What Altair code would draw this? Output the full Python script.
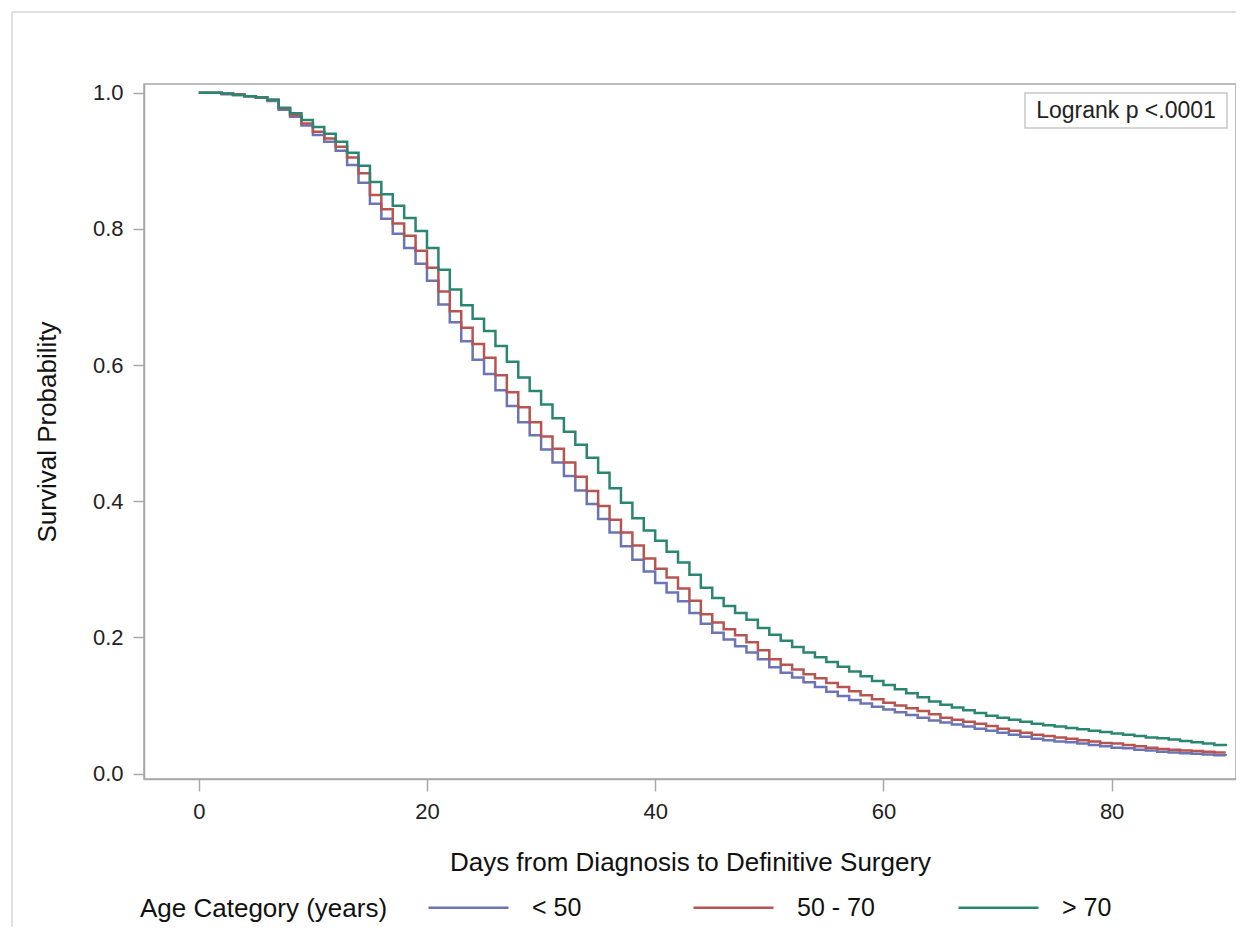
import altair as alt
import pandas as pd

days = list(range(0, 91))

under50 = [1.000, 1.000, 0.998, 0.997, 0.995, 0.993, 0.988, 0.975, 0.965, 0.952,
           0.938, 0.928, 0.915, 0.894, 0.868, 0.837, 0.815, 0.793, 0.772, 0.749,
           0.724, 0.689, 0.663, 0.635, 0.608, 0.587, 0.563, 0.540, 0.516, 0.497,
           0.476, 0.457, 0.437, 0.416, 0.396, 0.374, 0.354, 0.334, 0.314, 0.297,
           0.280, 0.266, 0.253, 0.236, 0.220, 0.207, 0.197, 0.187, 0.178, 0.168,
           0.156, 0.148, 0.141, 0.134, 0.127, 0.120, 0.114, 0.108, 0.103, 0.098,
           0.094, 0.090, 0.086, 0.082, 0.078, 0.075, 0.072, 0.069, 0.066, 0.063,
           0.060, 0.057, 0.054, 0.051, 0.049, 0.047, 0.046, 0.044, 0.042, 0.040,
           0.038, 0.037, 0.035, 0.034, 0.032, 0.031, 0.030, 0.029, 0.028, 0.027,
           0.026]

age50_70 = [1.000, 1.000, 0.999, 0.998, 0.995, 0.993, 0.990, 0.977, 0.967, 0.955,
            0.943, 0.933, 0.921, 0.905, 0.882, 0.850, 0.829, 0.808, 0.790, 0.768,
            0.743, 0.708, 0.679, 0.655, 0.631, 0.611, 0.585, 0.560, 0.538, 0.516,
            0.495, 0.477, 0.457, 0.436, 0.415, 0.393, 0.373, 0.354, 0.335, 0.316,
            0.301, 0.288, 0.272, 0.254, 0.234, 0.222, 0.212, 0.203, 0.193, 0.181,
            0.168, 0.160, 0.153, 0.146, 0.140, 0.133, 0.127, 0.121, 0.115, 0.109,
            0.104, 0.100, 0.096, 0.092, 0.087, 0.082, 0.079, 0.076, 0.073, 0.070,
            0.066, 0.063, 0.060, 0.057, 0.055, 0.053, 0.051, 0.049, 0.047, 0.045,
            0.044, 0.042, 0.040, 0.038, 0.036, 0.035, 0.034, 0.033, 0.032, 0.031,
            0.031]

over70 = [1.000, 1.000, 0.999, 0.997, 0.995, 0.993, 0.990, 0.978, 0.970, 0.960,
          0.950, 0.940, 0.928, 0.912, 0.893, 0.869, 0.851, 0.834, 0.816, 0.797,
          0.772, 0.740, 0.711, 0.688, 0.668, 0.650, 0.628, 0.605, 0.582, 0.562,
          0.542, 0.522, 0.502, 0.483, 0.464, 0.442, 0.419, 0.398, 0.375, 0.357,
          0.342, 0.326, 0.310, 0.292, 0.273, 0.258, 0.246, 0.236, 0.226, 0.214,
          0.204, 0.195, 0.186, 0.178, 0.171, 0.164, 0.157, 0.150, 0.143, 0.136,
          0.130, 0.124, 0.118, 0.112, 0.106, 0.101, 0.097, 0.093, 0.089, 0.085,
          0.082, 0.079, 0.076, 0.073, 0.071, 0.069, 0.067, 0.065, 0.063, 0.061,
          0.059, 0.057, 0.055, 0.053, 0.052, 0.050, 0.048, 0.046, 0.044, 0.042,
          0.040]

groups = ["< 50", "50 - 70", "> 70"]
colors = ["#6B74B4", "#B85450", "#2A8571"]
x_ticks = [0, 20, 40, 60, 80]
y_ticks = [0.0, 0.2, 0.4, 0.6, 0.8, 1.0]
annotation = ["Logrank p <.0001"]
legend_title = ["Age Category (years)"]

frames = []
for g, vals in zip(groups, [under50, age50_70, over70]):
    frames.append(pd.DataFrame({"day": days, "surv": vals, "group": g}))
df = pd.concat(frames, ignore_index=True)

FONT = "Liberation Sans"
GRAY = "#A8A8A8"

lines = alt.Chart(df).mark_line(interpolate="step-after", strokeWidth=2.5).encode(
    x=alt.X("day:Q",
            scale=alt.Scale(domain=[-4.8, 90.9], nice=False, zero=False),
            axis=alt.Axis(values=x_ticks, title="Days from Diagnosis to Definitive Surgery",
                          grid=False, tickSize=12, tickColor=GRAY, tickWidth=1.5,
                          domainColor=GRAY, domainWidth=1.5,
                          labelFont=FONT, labelFontSize=22, labelColor="#222222",
                          labelPadding=10, labelFlush=False,
                          titleFont=FONT, titleFontSize=26, titleFontWeight="normal",
                          titleColor="#111111", titleX=546, titleY=83,
                          titleBaseline="middle", titleAlign="center")),
    y=alt.Y("surv:Q",
            scale=alt.Scale(domain=[-0.008, 1.013], nice=False, zero=False),
            axis=alt.Axis(values=y_ticks, format=".1f", title="Survival Probability",
                          grid=False, tickSize=11, tickColor=GRAY, tickWidth=1.5,
                          domainColor=GRAY, domainWidth=1.5,
                          labelFont=FONT, labelFontSize=22, labelColor="#222222",
                          labelPadding=10, labelFlush=False,
                          titleFont=FONT, titleFontSize=26, titleFontWeight="normal",
                          titleColor="#111111", titleX=-97, titleY=347.5,
                          titleAngle=-90, titleBaseline="middle", titleAlign="center")),
    color=alt.Color("group:N", sort=groups,
                    scale=alt.Scale(domain=groups, range=colors),
                    legend=alt.Legend(title=None, orient="none",
                                      legendX=283, legendY=782, direction="horizontal",
                                      columns=3,
                                      symbolType="stroke", symbolSize=6400,
                                      symbolStrokeWidth=2.5,
                                      labelFont=FONT, labelFontSize=25, labelColor="#111111",
                                      labelOffset=22, columnPadding=78, gridAlign="all",
                                      padding=0)),
)

legend_label = alt.Chart(pd.DataFrame({"t": legend_title})).mark_text(
    font=FONT, fontSize=26, color="#111111", align="left", baseline="middle").encode(
    x=alt.value(-4), y=alt.value(825), text="t:N")

box = alt.Chart(pd.DataFrame({"t": annotation})).mark_rect(
    fill="white", stroke="#C8C8C8", strokeWidth=1.5).encode(
    x=alt.value(881), x2=alt.value(1083), y=alt.value(9), y2=alt.value(44))

label = alt.Chart(pd.DataFrame({"t": annotation})).mark_text(
    font=FONT, fontSize=23, color="#222222", align="center", baseline="middle").encode(
    x=alt.value(982), y=alt.value(27), text="t:N")

border_left = alt.Chart(pd.DataFrame({"a": [0]})).mark_rule(
    color="#D6D6D6", strokeWidth=1.5).encode(
    x=alt.value(-132), y=alt.value(-72), y2=alt.value(860))

border_top = alt.Chart(pd.DataFrame({"a": [0]})).mark_rule(
    color="#D6D6D6", strokeWidth=1.5).encode(
    y=alt.value(-72), x=alt.value(-132), x2=alt.value(1092))

chart = alt.layer(border_left, border_top, lines, box, label, legend_label).properties(
    width=1092, height=695,
    padding={"left": 136, "top": 76, "right": 0, "bottom": 148},
    autosize=alt.AutoSizeParams(type="none"),
).configure_view(stroke=GRAY, strokeWidth=1.5)

chart.save("out.html", embed_options={"renderer": "svg", "actions": False})
